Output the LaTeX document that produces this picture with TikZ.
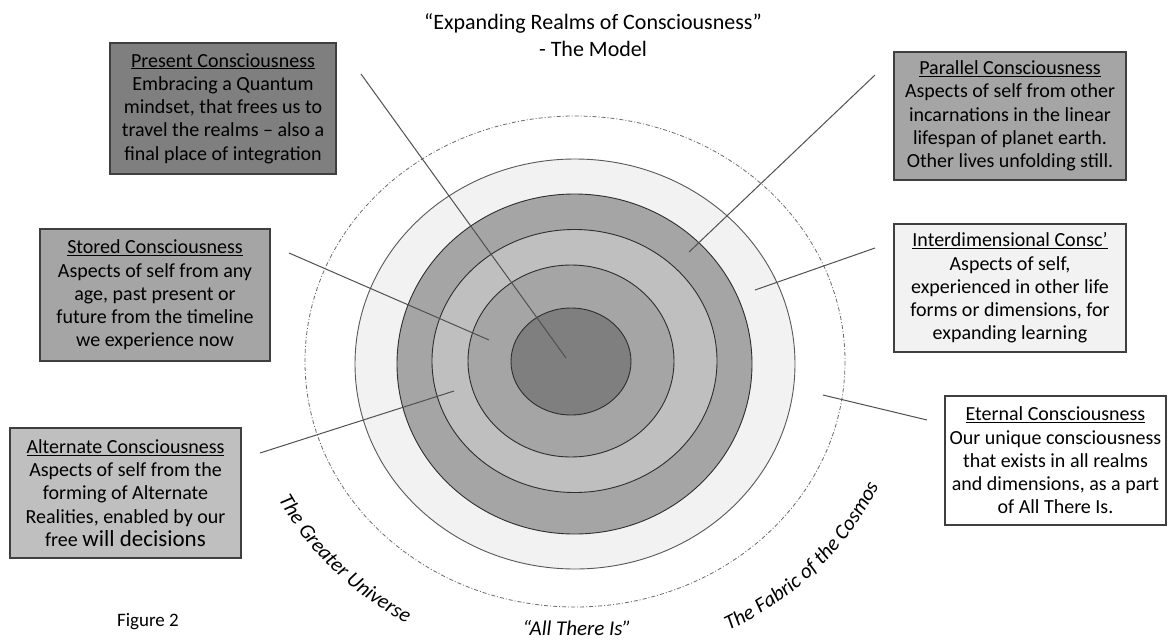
\documentclass[tikz,border=0pt]{standalone}
\usepackage{fontspec}
\setmainfont{Carlito}
\usetikzlibrary{decorations.text,calc}
\definecolor{cInner}{HTML}{7F7F7F}
\definecolor{cDark}{HTML}{A5A5A5}
\definecolor{cMid}{HTML}{BFBFBF}
\definecolor{cLight}{HTML}{F2F2F2}
\definecolor{boxline}{HTML}{3F3F3F}
\definecolor{ringline}{HTML}{2E2E2E}
\definecolor{connline}{HTML}{505050}
\definecolor{dashline}{HTML}{6A6A6A}
\begin{document}
\begin{tikzpicture}[x=1pt,y=-1pt,
  box/.style={draw=boxline, line width=1.2pt, align=center, inner sep=0pt,
    font=\fontsize{20}{23.3}\selectfont},
  ring/.style={draw=ringline, line width=0.9pt},
  conn/.style={draw=connline, line width=1pt},
  realm/.style={draw=dashline, line width=0.8pt, dash pattern=on 4pt off 2pt on 1pt off 2pt},
  curvelabel/.style={decorate, decoration={text along path, text align=center,
    text={|\itshape\fontsize{21}{24}\selectfont|#1}}}
]
\fill[white] (0,0) rectangle (1168,643);
\useasboundingbox (0,0) rectangle (1168,643);

% realms
\draw[realm] (575,361.5) ellipse [x radius=270, y radius=245.5];
\draw[ring, draw=ringline!80, fill=cLight] (575,364) ellipse [x radius=220, y radius=205];
\draw[ring, fill=cDark] (574.5,364) ellipse [x radius=177.5, y radius=170];
\draw[ring, fill=cMid] (574.5,361) ellipse [x radius=142.5, y radius=131.5];
\draw[ring, fill=cDark] (571,361) ellipse [x radius=103, y radius=96];
\draw[ring, fill=cInner] (571,361.5) ellipse [x radius=60, y radius=53.5];

% curved labels
\path[curvelabel={The Greater Universe}] ($(575,362)+(163:333 and 303)$) arc[start angle=163, end angle=111, x radius=333, y radius=303];
\path[curvelabel={The Fabric of the Cosmos}] ($(575,362)+(72:333 and 303)$) arc[start angle=72, end angle=14, x radius=333, y radius=303];

% connector ends
\coordinate (pA) at (361,74);  \coordinate (pB) at (566,358);
\coordinate (sA) at (289,253); \coordinate (sB) at (489,340);
\coordinate (aA) at (260,453); \coordinate (aB) at (454,391);
\coordinate (rA) at (875,75);  \coordinate (rB) at (689,252);
\coordinate (iA) at (875,248); \coordinate (iB) at (755,290);
\coordinate (eA) at (927,420); \coordinate (eB) at (823,395);
\draw[conn] (pA) -- (pB);
\draw[conn] (sA) -- (sB);
\draw[conn] (aA) -- (aB);
\draw[conn] (rA) -- (rB);
\draw[conn] (iA) -- (iB);
\draw[conn] (eA) -- (eB);

% title
\node[align=center, font=\fontsize{22}{27}\selectfont] (title) at (593,35)
  {“Expanding Realms of Consciousness”\\- The Model};

% boxes
\node[box, fill=cInner, minimum width=226pt, minimum height=131pt] (present) at (223,108.5)
  {\underline{Present Consciousness}\\Embracing a Quantum\\mindset, that frees us to\\travel the realms – also a\\final place of integration};
\node[box, fill=cDark, minimum width=230pt, minimum height=132pt] (stored) at (155,295)
  {\underline{Stored Consciousness}\\Aspects of self from any\\age, past present or\\future from the timeline\\we experience now};
\node[box, fill=cMid, minimum width=231pt, minimum height=130pt] (alternate) at (125.5,493)
  {\underline{Alternate Consciousness}\\Aspects of self from the\\forming of Alternate\\Realities, enabled by our\\free {\fontsize{23}{23.3}\selectfont will decisions}};
\node[box, fill=cDark, minimum width=232pt, minimum height=128pt] (parallel) at (1010,116)
  {\underline{Parallel Consciousness}\\Aspects of self from other\\incarnations in the linear\\lifespan of planet earth.\\Other lives unfolding still.};
\node[box, fill=cLight, minimum width=232pt, minimum height=128pt] (inter) at (1010,288)
  {\underline{Interdimensional Consc’}\\Aspects of self,\\experienced in other life\\forms or dimensions, for\\expanding learning};
\node[box, fill=white, minimum width=221pt, minimum height=129pt] (eternal) at (1055.5,460.5)
  {\underline{Eternal Consciousness}\\Our unique consciousness\\that exists in all realms\\and dimensions, as a part\\of All There Is.};

% bottom texts
\node[font=\itshape\fontsize{21}{24}\selectfont] (allthere) at (577,628) {“All There Is”};
\node[font=\fontsize{19}{22}\selectfont] (figure) at (148,622) {Figure 2};
\end{tikzpicture}
\end{document}
